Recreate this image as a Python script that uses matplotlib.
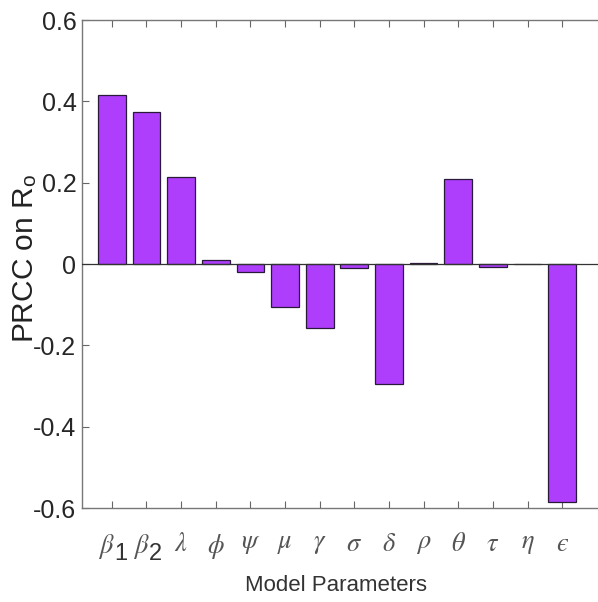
import numpy as np
import matplotlib
matplotlib.use('Agg')
import matplotlib.pyplot as plt
from matplotlib import font_manager
import matplotlib.transforms as mtransforms

# PRCC values
param_symbols = [r'$\beta$', r'$\beta$', r'$\lambda$', r'$\phi$', r'$\psi$', r'$\mu$',
                 r'$\gamma$', r'$\sigma$', r'$\delta$', r'$\rho$', r'$\theta$', r'$\tau$',
                 r'$\eta$', '$\u03f5$']
param_subscripts = ['1', '2', '', '', '', '', '', '', '', '', '', '', '', '']
prcc_values = [0.416, 0.374, 0.214, 0.010, -0.020, -0.106, -0.157, -0.010,
               -0.295, 0.003, 0.209, -0.008, -0.001, -0.584]
y_ticks = [-0.6, -0.4, -0.2, 0, 0.2, 0.4, 0.6]
y_tick_labels = ['-0.6', '-0.4', '-0.2', '0', '0.2', '0.4', '0.6']

names = {f.name for f in font_manager.fontManager.ttflist}
narrow = 'Liberation Sans Narrow' in names
if narrow:
    plt.rcParams['font.family'] = ['Liberation Sans Narrow', 'DejaVu Sans']
    ytick_size, xlabel_size, sub_size = 20, 18, 19
else:
    plt.rcParams['font.family'] = ['Liberation Sans', 'DejaVu Sans']
    ytick_size, xlabel_size, sub_size = 18, 16, 17
plt.rcParams['mathtext.fontset'] = 'custom'
plt.rcParams['mathtext.rm'] = 'Liberation Sans'
plt.rcParams['mathtext.sf'] = 'Liberation Sans'
plt.rcParams['mathtext.it'] = 'STIXGeneral:italic'

fig = plt.figure(figsize=(5.98, 6.02), dpi=100)
ax = fig.add_axes([0.1371, 0.1561, 0.8784, 0.8106])

x = np.arange(1, len(prcc_values) + 1)
ax.bar(x, prcc_values, width=0.8, color='#AE3EFB', edgecolor='#2a1a3a', linewidth=0.9, zorder=2)
ax.axhline(0, color='#333333', linewidth=0.9, zorder=3)

ax.set_xlim(0.14, 15.3)
ax.set_ylim(-0.6, 0.6)
ax.set_xticks(x)
ax.set_xticklabels([''] * len(x))
ax.set_yticks(y_ticks)
ax.set_yticklabels(y_tick_labels, fontsize=ytick_size, color='#262626')

# parameter symbols under the ticks, subscripts drawn at full size as in the original
trans = mtransforms.blended_transform_factory(ax.transData, ax.transAxes)
for xi, sym, sub in zip(x, param_symbols, param_subscripts):
    if sub:
        ax.annotate(sym, xy=(xi, 0), xycoords=trans, xytext=(2, -17), textcoords='offset points',
                    ha='right', va='top', fontsize=19, color='#555555', annotation_clip=False)
        ax.annotate(sub, xy=(xi, 0), xycoords=trans, xytext=(2, -25), textcoords='offset points',
                    ha='left', va='top', fontsize=sub_size, color='#333333', annotation_clip=False)
    else:
        ax.annotate(sym, xy=(xi, 0), xycoords=trans, xytext=(0, -17), textcoords='offset points',
                    ha='center', va='top', fontsize=19, color='#555555', annotation_clip=False)

ax.tick_params(direction='in', length=5, width=0.8, color='#666666', top=True, right=True)
ax.tick_params(axis='y', pad=4)
for side in ('left', 'bottom', 'top', 'right'):
    ax.spines[side].set_color('#777777')
    ax.spines[side].set_linewidth(1.0)

ax.set_ylabel(r'PRCC on R$_{\mathrm{o}}$', fontsize=21.5, color='#222222')
ax.yaxis.set_label_coords(-0.0819, 0.511)
ax.set_xlabel('Model Parameters', fontsize=xlabel_size, color='#333333')
ax.xaxis.set_label_coords(0.4835, -0.1373)

fig.savefig('out.png', dpi=100)
